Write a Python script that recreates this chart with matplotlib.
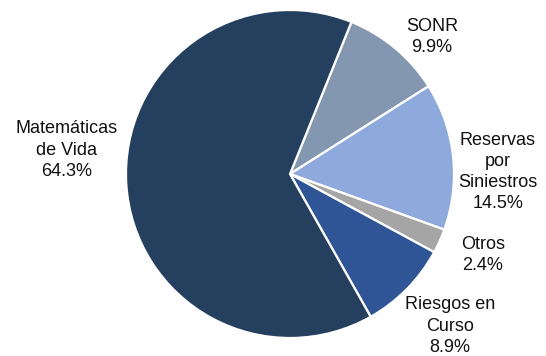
import matplotlib
matplotlib.use("Agg")
import matplotlib.pyplot as plt

categories = ["SONR", "Reservas\npor\nSiniestros", "Otros", "Riesgos en\nCurso", "Matemáticas\nde Vida"]
values = [9.9, 14.5, 2.4, 8.9, 64.3]
colors = ["#8497B0", "#8EA9DB", "#A5A5A5", "#2F5597", "#253F5F"]
# label centres in pie-data coordinates (layout only)
label_pos = [(0.866, 0.835), (1.268, 0.012), (1.177, -0.494), (0.976, -0.927), (-1.36, 0.146)]

plt.rcParams['font.family'] = ['Liberation Sans', 'DejaVu Sans']

W, H = 546, 356
fig = plt.figure(figsize=(W / 100, H / 100), dpi=100)
cx, cy, r = 290, 174, 164
ax = fig.add_axes([(cx - r) / W, (H - cy - r) / H, 2 * r / W, 2 * r / H])
wedges, _ = ax.pie(values, colors=colors, startangle=68, counterclock=False,
                   wedgeprops=dict(edgecolor="white", linewidth=1.6), radius=1)
ax.set_xlim(-1, 1)
ax.set_ylim(-1, 1)
ax.set_aspect("equal")
ax.axis("off")

for cat, v, (x, y) in zip(categories, values, label_pos):
    ax.text(x, y, f"{cat}\n{v:.1f}%", ha="center", va="center", fontsize=13,
            color="#111111", linespacing=1.32, clip_on=False)

fig.savefig("out.png", dpi=100)
